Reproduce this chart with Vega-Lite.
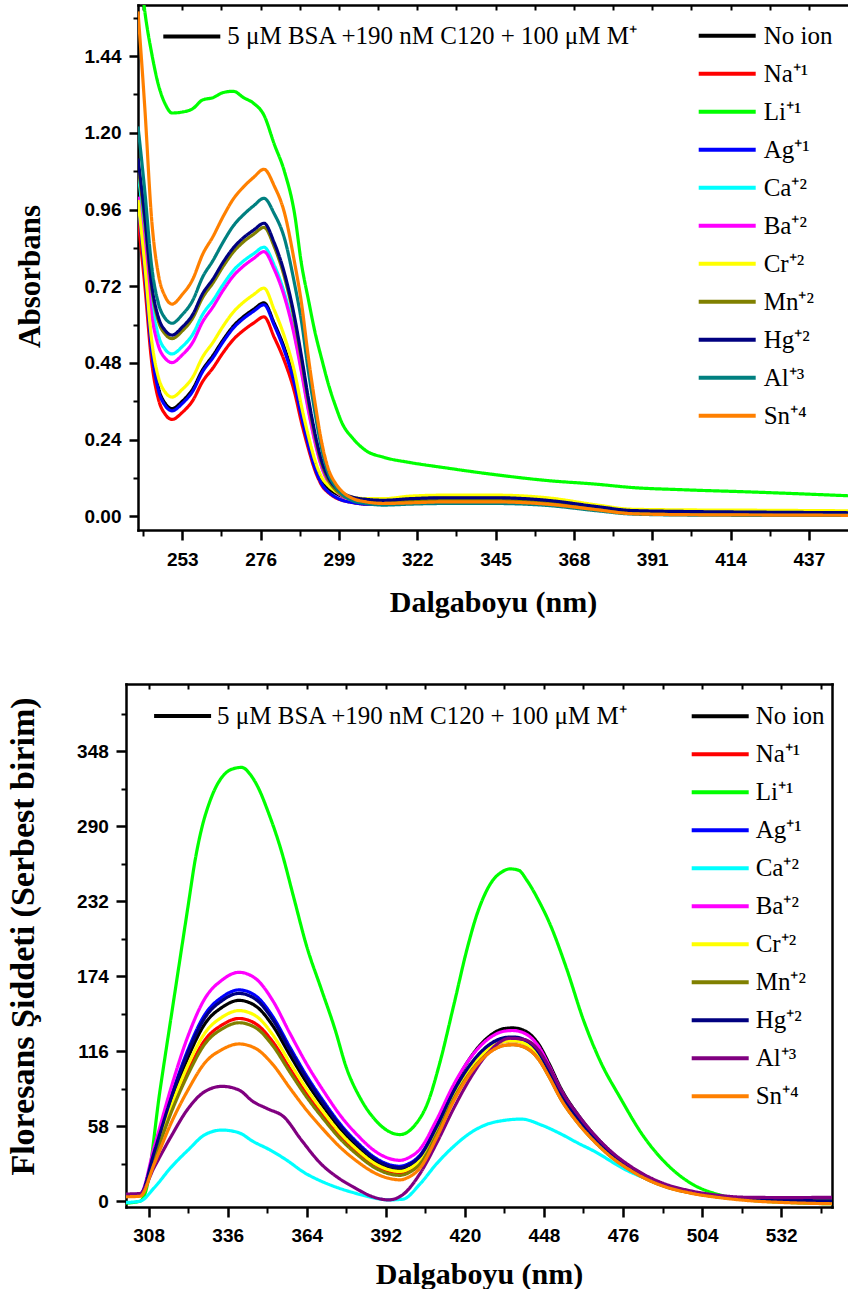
{
"$schema": "https://vega.github.io/schema/vega-lite/v6.json",
"usermeta": {"embedOptions": {"actions": false}},
"padding": {"left": 5, "top": 4, "right": 0, "bottom": 0},
"background": "white",
"config": {
 "view": {"stroke": null},
 "axis": {"grid": false, "domainColor": "black", "domainWidth": 2.5, "domainCap": "square", "tickColor": "black", "tickWidth": 2.5, "labelFont": "Liberation Sans, Arial, sans-serif", "labelFontWeight": "bold", "labelFontSize": 19, "labelColor": "black", "titleFont": "Liberation Serif, Times New Roman, serif", "titleFontWeight": "bold", "titleColor": "black"},
 "legend": {"orient": "none", "padding": 0, "symbolType": "stroke", "symbolStrokeWidth": 4, "symbolSize": 3249, "clipHeight": 37.4, "rowPadding": 0, "labelFont": "Liberation Serif, Times New Roman, serif", "labelFontSize": 25, "labelColor": "black", "labelLimit": 700}
},
"datasets": {
 "abs": [
{"s":"No ion","x":240,"y":0.99},{"s":"No ion","x":242,"y":0.775},{"s":"No ion","x":244,"y":0.526},{"s":"No ion","x":246,"y":0.402},{"s":"No ion","x":248,"y":0.353},{"s":"No ion","x":250,"y":0.337},{"s":"No ion","x":253,"y":0.36},{"s":"No ion","x":256,"y":0.397},{"s":"No ion","x":259,"y":0.459},{"s":"No ion","x":262,"y":0.503},{"s":"No ion","x":265,"y":0.552},{"s":"No ion","x":268,"y":0.595},{"s":"No ion","x":271,"y":0.625},{"s":"No ion","x":274,"y":0.648},{"s":"No ion","x":277,"y":0.668},{"s":"No ion","x":280,"y":0.604},{"s":"No ion","x":283,"y":0.526},{"s":"No ion","x":286,"y":0.421},{"s":"No ion","x":288,"y":0.322},{"s":"No ion","x":290,"y":0.235},{"s":"No ion","x":292,"y":0.161},{"s":"No ion","x":294,"y":0.112},{"s":"No ion","x":296,"y":0.087},{"s":"No ion","x":298,"y":0.072},{"s":"No ion","x":300,"y":0.062},{"s":"No ion","x":303,"y":0.055},{"s":"No ion","x":307,"y":0.05},{"s":"No ion","x":312,"y":0.05},{"s":"No ion","x":320,"y":0.055},{"s":"No ion","x":330,"y":0.058},{"s":"No ion","x":345,"y":0.058},{"s":"No ion","x":360,"y":0.05},{"s":"No ion","x":375,"y":0.03},{"s":"No ion","x":385,"y":0.018},{"s":"No ion","x":400,"y":0.015},{"s":"No ion","x":420,"y":0.013},{"s":"No ion","x":449,"y":0.011},
{"s":"Na⁺¹","x":240,"y":0.93},{"s":"Na⁺¹","x":242,"y":0.723},{"s":"Na⁺¹","x":244,"y":0.485},{"s":"Na⁺¹","x":246,"y":0.366},{"s":"Na⁺¹","x":248,"y":0.319},{"s":"Na⁺¹","x":250,"y":0.303},{"s":"Na⁺¹","x":253,"y":0.325},{"s":"Na⁺¹","x":256,"y":0.361},{"s":"Na⁺¹","x":259,"y":0.422},{"s":"Na⁺¹","x":262,"y":0.464},{"s":"Na⁺¹","x":265,"y":0.512},{"s":"Na⁺¹","x":268,"y":0.553},{"s":"Na⁺¹","x":271,"y":0.582},{"s":"Na⁺¹","x":274,"y":0.605},{"s":"Na⁺¹","x":277,"y":0.624},{"s":"Na⁺¹","x":280,"y":0.56},{"s":"Na⁺¹","x":283,"y":0.486},{"s":"Na⁺¹","x":286,"y":0.387},{"s":"Na⁺¹","x":288,"y":0.294},{"s":"Na⁺¹","x":290,"y":0.213},{"s":"Na⁺¹","x":292,"y":0.143},{"s":"Na⁺¹","x":294,"y":0.096},{"s":"Na⁺¹","x":296,"y":0.073},{"s":"Na⁺¹","x":298,"y":0.058},{"s":"Na⁺¹","x":300,"y":0.05},{"s":"Na⁺¹","x":303,"y":0.043},{"s":"Na⁺¹","x":307,"y":0.038},{"s":"Na⁺¹","x":312,"y":0.038},{"s":"Na⁺¹","x":320,"y":0.042},{"s":"Na⁺¹","x":330,"y":0.045},{"s":"Na⁺¹","x":345,"y":0.045},{"s":"Na⁺¹","x":360,"y":0.04},{"s":"Na⁺¹","x":375,"y":0.022},{"s":"Na⁺¹","x":385,"y":0.011},{"s":"Na⁺¹","x":400,"y":0.008},{"s":"Na⁺¹","x":420,"y":0.007},{"s":"Na⁺¹","x":449,"y":0.006},
{"s":"Li⁺¹","x":240,"y":1.78},{"s":"Li⁺¹","x":242,"y":1.58},{"s":"Li⁺¹","x":244,"y":1.45},{"s":"Li⁺¹","x":246,"y":1.35},{"s":"Li⁺¹","x":248,"y":1.29},{"s":"Li⁺¹","x":250,"y":1.262},{"s":"Li⁺¹","x":253,"y":1.265},{"s":"Li⁺¹","x":256,"y":1.275},{"s":"Li⁺¹","x":259,"y":1.303},{"s":"Li⁺¹","x":262,"y":1.31},{"s":"Li⁺¹","x":265,"y":1.326},{"s":"Li⁺¹","x":268,"y":1.33},{"s":"Li⁺¹","x":271,"y":1.31},{"s":"Li⁺¹","x":274,"y":1.292},{"s":"Li⁺¹","x":277,"y":1.255},{"s":"Li⁺¹","x":280,"y":1.165},{"s":"Li⁺¹","x":283,"y":1.079},{"s":"Li⁺¹","x":286,"y":0.945},{"s":"Li⁺¹","x":288,"y":0.79},{"s":"Li⁺¹","x":290,"y":0.68},{"s":"Li⁺¹","x":292,"y":0.575},{"s":"Li⁺¹","x":294,"y":0.49},{"s":"Li⁺¹","x":296,"y":0.41},{"s":"Li⁺¹","x":298,"y":0.345},{"s":"Li⁺¹","x":300,"y":0.29},{"s":"Li⁺¹","x":303,"y":0.245},{"s":"Li⁺¹","x":307,"y":0.205},{"s":"Li⁺¹","x":312,"y":0.185},{"s":"Li⁺¹","x":320,"y":0.168},{"s":"Li⁺¹","x":330,"y":0.152},{"s":"Li⁺¹","x":345,"y":0.13},{"s":"Li⁺¹","x":360,"y":0.112},{"s":"Li⁺¹","x":375,"y":0.1},{"s":"Li⁺¹","x":385,"y":0.09},{"s":"Li⁺¹","x":400,"y":0.083},{"s":"Li⁺¹","x":420,"y":0.076},{"s":"Li⁺¹","x":449,"y":0.064},
{"s":"Ag⁺¹","x":240,"y":0.98},{"s":"Ag⁺¹","x":242,"y":0.766},{"s":"Ag⁺¹","x":244,"y":0.519},{"s":"Ag⁺¹","x":246,"y":0.395},{"s":"Ag⁺¹","x":248,"y":0.346},{"s":"Ag⁺¹","x":250,"y":0.33},{"s":"Ag⁺¹","x":253,"y":0.353},{"s":"Ag⁺¹","x":256,"y":0.39},{"s":"Ag⁺¹","x":259,"y":0.453},{"s":"Ag⁺¹","x":262,"y":0.496},{"s":"Ag⁺¹","x":265,"y":0.546},{"s":"Ag⁺¹","x":268,"y":0.589},{"s":"Ag⁺¹","x":271,"y":0.619},{"s":"Ag⁺¹","x":274,"y":0.642},{"s":"Ag⁺¹","x":277,"y":0.662},{"s":"Ag⁺¹","x":280,"y":0.598},{"s":"Ag⁺¹","x":283,"y":0.518},{"s":"Ag⁺¹","x":286,"y":0.412},{"s":"Ag⁺¹","x":288,"y":0.313},{"s":"Ag⁺¹","x":290,"y":0.225},{"s":"Ag⁺¹","x":292,"y":0.15},{"s":"Ag⁺¹","x":294,"y":0.1},{"s":"Ag⁺¹","x":296,"y":0.075},{"s":"Ag⁺¹","x":298,"y":0.06},{"s":"Ag⁺¹","x":300,"y":0.05},{"s":"Ag⁺¹","x":303,"y":0.043},{"s":"Ag⁺¹","x":307,"y":0.038},{"s":"Ag⁺¹","x":312,"y":0.038},{"s":"Ag⁺¹","x":320,"y":0.042},{"s":"Ag⁺¹","x":330,"y":0.045},{"s":"Ag⁺¹","x":345,"y":0.045},{"s":"Ag⁺¹","x":360,"y":0.04},{"s":"Ag⁺¹","x":375,"y":0.022},{"s":"Ag⁺¹","x":385,"y":0.011},{"s":"Ag⁺¹","x":400,"y":0.008},{"s":"Ag⁺¹","x":420,"y":0.007},{"s":"Ag⁺¹","x":449,"y":0.006},
{"s":"Ca⁺²","x":240,"y":1.08},{"s":"Ca⁺²","x":242,"y":0.891},{"s":"Ca⁺²","x":244,"y":0.674},{"s":"Ca⁺²","x":246,"y":0.565},{"s":"Ca⁺²","x":248,"y":0.522},{"s":"Ca⁺²","x":250,"y":0.508},{"s":"Ca⁺²","x":253,"y":0.531},{"s":"Ca⁺²","x":256,"y":0.568},{"s":"Ca⁺²","x":259,"y":0.632},{"s":"Ca⁺²","x":262,"y":0.675},{"s":"Ca⁺²","x":265,"y":0.725},{"s":"Ca⁺²","x":268,"y":0.769},{"s":"Ca⁺²","x":271,"y":0.799},{"s":"Ca⁺²","x":274,"y":0.822},{"s":"Ca⁺²","x":277,"y":0.842},{"s":"Ca⁺²","x":280,"y":0.786},{"s":"Ca⁺²","x":283,"y":0.698},{"s":"Ca⁺²","x":286,"y":0.57},{"s":"Ca⁺²","x":288,"y":0.458},{"s":"Ca⁺²","x":290,"y":0.338},{"s":"Ca⁺²","x":292,"y":0.234},{"s":"Ca⁺²","x":294,"y":0.154},{"s":"Ca⁺²","x":296,"y":0.106},{"s":"Ca⁺²","x":298,"y":0.08},{"s":"Ca⁺²","x":300,"y":0.064},{"s":"Ca⁺²","x":303,"y":0.052},{"s":"Ca⁺²","x":307,"y":0.044},{"s":"Ca⁺²","x":312,"y":0.042},{"s":"Ca⁺²","x":320,"y":0.048},{"s":"Ca⁺²","x":330,"y":0.05},{"s":"Ca⁺²","x":345,"y":0.05},{"s":"Ca⁺²","x":360,"y":0.043},{"s":"Ca⁺²","x":375,"y":0.025},{"s":"Ca⁺²","x":385,"y":0.013},{"s":"Ca⁺²","x":400,"y":0.01},{"s":"Ca⁺²","x":420,"y":0.009},{"s":"Ca⁺²","x":449,"y":0.008},
{"s":"Ba⁺²","x":240,"y":1.0},{"s":"Ba⁺²","x":242,"y":0.829},{"s":"Ba⁺²","x":244,"y":0.632},{"s":"Ba⁺²","x":246,"y":0.533},{"s":"Ba⁺²","x":248,"y":0.494},{"s":"Ba⁺²","x":250,"y":0.481},{"s":"Ba⁺²","x":253,"y":0.505},{"s":"Ba⁺²","x":256,"y":0.543},{"s":"Ba⁺²","x":259,"y":0.609},{"s":"Ba⁺²","x":262,"y":0.655},{"s":"Ba⁺²","x":265,"y":0.707},{"s":"Ba⁺²","x":268,"y":0.752},{"s":"Ba⁺²","x":271,"y":0.783},{"s":"Ba⁺²","x":274,"y":0.807},{"s":"Ba⁺²","x":277,"y":0.828},{"s":"Ba⁺²","x":280,"y":0.773},{"s":"Ba⁺²","x":283,"y":0.687},{"s":"Ba⁺²","x":286,"y":0.561},{"s":"Ba⁺²","x":288,"y":0.451},{"s":"Ba⁺²","x":290,"y":0.333},{"s":"Ba⁺²","x":292,"y":0.231},{"s":"Ba⁺²","x":294,"y":0.152},{"s":"Ba⁺²","x":296,"y":0.105},{"s":"Ba⁺²","x":298,"y":0.079},{"s":"Ba⁺²","x":300,"y":0.063},{"s":"Ba⁺²","x":303,"y":0.051},{"s":"Ba⁺²","x":307,"y":0.044},{"s":"Ba⁺²","x":312,"y":0.042},{"s":"Ba⁺²","x":320,"y":0.048},{"s":"Ba⁺²","x":330,"y":0.05},{"s":"Ba⁺²","x":345,"y":0.05},{"s":"Ba⁺²","x":360,"y":0.043},{"s":"Ba⁺²","x":375,"y":0.025},{"s":"Ba⁺²","x":385,"y":0.013},{"s":"Ba⁺²","x":400,"y":0.01},{"s":"Ba⁺²","x":420,"y":0.009},{"s":"Ba⁺²","x":449,"y":0.008},
{"s":"Cr⁺²","x":240,"y":0.99},{"s":"Cr⁺²","x":242,"y":0.786},{"s":"Cr⁺²","x":244,"y":0.552},{"s":"Cr⁺²","x":246,"y":0.435},{"s":"Cr⁺²","x":248,"y":0.388},{"s":"Cr⁺²","x":250,"y":0.373},{"s":"Cr⁺²","x":253,"y":0.397},{"s":"Cr⁺²","x":256,"y":0.434},{"s":"Cr⁺²","x":259,"y":0.499},{"s":"Cr⁺²","x":262,"y":0.544},{"s":"Cr⁺²","x":265,"y":0.595},{"s":"Cr⁺²","x":268,"y":0.639},{"s":"Cr⁺²","x":271,"y":0.67},{"s":"Cr⁺²","x":274,"y":0.694},{"s":"Cr⁺²","x":277,"y":0.714},{"s":"Cr⁺²","x":280,"y":0.646},{"s":"Cr⁺²","x":283,"y":0.562},{"s":"Cr⁺²","x":286,"y":0.45},{"s":"Cr⁺²","x":288,"y":0.345},{"s":"Cr⁺²","x":290,"y":0.253},{"s":"Cr⁺²","x":292,"y":0.174},{"s":"Cr⁺²","x":294,"y":0.121},{"s":"Cr⁺²","x":296,"y":0.095},{"s":"Cr⁺²","x":298,"y":0.078},{"s":"Cr⁺²","x":300,"y":0.068},{"s":"Cr⁺²","x":303,"y":0.06},{"s":"Cr⁺²","x":307,"y":0.055},{"s":"Cr⁺²","x":312,"y":0.055},{"s":"Cr⁺²","x":320,"y":0.063},{"s":"Cr⁺²","x":330,"y":0.066},{"s":"Cr⁺²","x":345,"y":0.066},{"s":"Cr⁺²","x":360,"y":0.058},{"s":"Cr⁺²","x":375,"y":0.035},{"s":"Cr⁺²","x":385,"y":0.022},{"s":"Cr⁺²","x":400,"y":0.02},{"s":"Cr⁺²","x":420,"y":0.019},{"s":"Cr⁺²","x":449,"y":0.017},
{"s":"Mn⁺²","x":240,"y":1.1},{"s":"Mn⁺²","x":242,"y":0.92},{"s":"Mn⁺²","x":244,"y":0.714},{"s":"Mn⁺²","x":246,"y":0.61},{"s":"Mn⁺²","x":248,"y":0.57},{"s":"Mn⁺²","x":250,"y":0.556},{"s":"Mn⁺²","x":253,"y":0.58},{"s":"Mn⁺²","x":256,"y":0.619},{"s":"Mn⁺²","x":259,"y":0.685},{"s":"Mn⁺²","x":262,"y":0.73},{"s":"Mn⁺²","x":265,"y":0.782},{"s":"Mn⁺²","x":268,"y":0.827},{"s":"Mn⁺²","x":271,"y":0.859},{"s":"Mn⁺²","x":274,"y":0.883},{"s":"Mn⁺²","x":277,"y":0.904},{"s":"Mn⁺²","x":280,"y":0.844},{"s":"Mn⁺²","x":283,"y":0.749},{"s":"Mn⁺²","x":286,"y":0.611},{"s":"Mn⁺²","x":288,"y":0.49},{"s":"Mn⁺²","x":290,"y":0.361},{"s":"Mn⁺²","x":292,"y":0.249},{"s":"Mn⁺²","x":294,"y":0.163},{"s":"Mn⁺²","x":296,"y":0.111},{"s":"Mn⁺²","x":298,"y":0.083},{"s":"Mn⁺²","x":300,"y":0.065},{"s":"Mn⁺²","x":303,"y":0.052},{"s":"Mn⁺²","x":307,"y":0.045},{"s":"Mn⁺²","x":312,"y":0.042},{"s":"Mn⁺²","x":320,"y":0.048},{"s":"Mn⁺²","x":330,"y":0.05},{"s":"Mn⁺²","x":345,"y":0.05},{"s":"Mn⁺²","x":360,"y":0.043},{"s":"Mn⁺²","x":375,"y":0.025},{"s":"Mn⁺²","x":385,"y":0.013},{"s":"Mn⁺²","x":400,"y":0.01},{"s":"Mn⁺²","x":420,"y":0.009},{"s":"Mn⁺²","x":449,"y":0.008},
{"s":"Hg⁺²","x":240,"y":1.12},{"s":"Hg⁺²","x":242,"y":0.938},{"s":"Hg⁺²","x":244,"y":0.727},{"s":"Hg⁺²","x":246,"y":0.622},{"s":"Hg⁺²","x":248,"y":0.581},{"s":"Hg⁺²","x":250,"y":0.567},{"s":"Hg⁺²","x":253,"y":0.592},{"s":"Hg⁺²","x":256,"y":0.63},{"s":"Hg⁺²","x":259,"y":0.697},{"s":"Hg⁺²","x":262,"y":0.742},{"s":"Hg⁺²","x":265,"y":0.795},{"s":"Hg⁺²","x":268,"y":0.84},{"s":"Hg⁺²","x":271,"y":0.872},{"s":"Hg⁺²","x":274,"y":0.896},{"s":"Hg⁺²","x":277,"y":0.917},{"s":"Hg⁺²","x":280,"y":0.856},{"s":"Hg⁺²","x":283,"y":0.761},{"s":"Hg⁺²","x":286,"y":0.622},{"s":"Hg⁺²","x":288,"y":0.501},{"s":"Hg⁺²","x":290,"y":0.371},{"s":"Hg⁺²","x":292,"y":0.258},{"s":"Hg⁺²","x":294,"y":0.171},{"s":"Hg⁺²","x":296,"y":0.119},{"s":"Hg⁺²","x":298,"y":0.091},{"s":"Hg⁺²","x":300,"y":0.073},{"s":"Hg⁺²","x":303,"y":0.06},{"s":"Hg⁺²","x":307,"y":0.053},{"s":"Hg⁺²","x":312,"y":0.05},{"s":"Hg⁺²","x":320,"y":0.055},{"s":"Hg⁺²","x":330,"y":0.058},{"s":"Hg⁺²","x":345,"y":0.058},{"s":"Hg⁺²","x":360,"y":0.05},{"s":"Hg⁺²","x":375,"y":0.03},{"s":"Hg⁺²","x":385,"y":0.018},{"s":"Hg⁺²","x":400,"y":0.015},{"s":"Hg⁺²","x":420,"y":0.013},{"s":"Hg⁺²","x":449,"y":0.011},
{"s":"Al⁺³","x":240,"y":1.22},{"s":"Al⁺³","x":242,"y":1.017},{"s":"Al⁺³","x":244,"y":0.783},{"s":"Al⁺³","x":246,"y":0.666},{"s":"Al⁺³","x":248,"y":0.619},{"s":"Al⁺³","x":250,"y":0.604},{"s":"Al⁺³","x":253,"y":0.631},{"s":"Al⁺³","x":256,"y":0.674},{"s":"Al⁺³","x":259,"y":0.749},{"s":"Al⁺³","x":262,"y":0.8},{"s":"Al⁺³","x":265,"y":0.858},{"s":"Al⁺³","x":268,"y":0.909},{"s":"Al⁺³","x":271,"y":0.944},{"s":"Al⁺³","x":274,"y":0.972},{"s":"Al⁺³","x":277,"y":0.995},{"s":"Al⁺³","x":280,"y":0.947},{"s":"Al⁺³","x":283,"y":0.87},{"s":"Al⁺³","x":286,"y":0.726},{"s":"Al⁺³","x":288,"y":0.611},{"s":"Al⁺³","x":290,"y":0.457},{"s":"Al⁺³","x":292,"y":0.323},{"s":"Al⁺³","x":294,"y":0.208},{"s":"Al⁺³","x":296,"y":0.131},{"s":"Al⁺³","x":298,"y":0.093},{"s":"Al⁺³","x":300,"y":0.069},{"s":"Al⁺³","x":303,"y":0.049},{"s":"Al⁺³","x":307,"y":0.04},{"s":"Al⁺³","x":312,"y":0.035},{"s":"Al⁺³","x":320,"y":0.038},{"s":"Al⁺³","x":330,"y":0.04},{"s":"Al⁺³","x":345,"y":0.04},{"s":"Al⁺³","x":360,"y":0.034},{"s":"Al⁺³","x":375,"y":0.017},{"s":"Al⁺³","x":385,"y":0.007},{"s":"Al⁺³","x":400,"y":0.004},{"s":"Al⁺³","x":420,"y":0.003},{"s":"Al⁺³","x":449,"y":0.003},
{"s":"Sn⁺⁴","x":240,"y":1.58},{"s":"Sn⁺⁴","x":242,"y":1.278},{"s":"Sn⁺⁴","x":244,"y":0.93},{"s":"Sn⁺⁴","x":246,"y":0.756},{"s":"Sn⁺⁴","x":248,"y":0.687},{"s":"Sn⁺⁴","x":250,"y":0.664},{"s":"Sn⁺⁴","x":253,"y":0.694},{"s":"Sn⁺⁴","x":256,"y":0.74},{"s":"Sn⁺⁴","x":259,"y":0.82},{"s":"Sn⁺⁴","x":262,"y":0.875},{"s":"Sn⁺⁴","x":265,"y":0.938},{"s":"Sn⁺⁴","x":268,"y":0.993},{"s":"Sn⁺⁴","x":271,"y":1.031},{"s":"Sn⁺⁴","x":274,"y":1.061},{"s":"Sn⁺⁴","x":277,"y":1.086},{"s":"Sn⁺⁴","x":280,"y":1.034},{"s":"Sn⁺⁴","x":283,"y":0.95},{"s":"Sn⁺⁴","x":286,"y":0.793},{"s":"Sn⁺⁴","x":288,"y":0.668},{"s":"Sn⁺⁴","x":290,"y":0.5},{"s":"Sn⁺⁴","x":292,"y":0.354},{"s":"Sn⁺⁴","x":294,"y":0.228},{"s":"Sn⁺⁴","x":296,"y":0.145},{"s":"Sn⁺⁴","x":298,"y":0.103},{"s":"Sn⁺⁴","x":300,"y":0.077},{"s":"Sn⁺⁴","x":303,"y":0.056},{"s":"Sn⁺⁴","x":307,"y":0.045},{"s":"Sn⁺⁴","x":312,"y":0.04},{"s":"Sn⁺⁴","x":320,"y":0.042},{"s":"Sn⁺⁴","x":330,"y":0.045},{"s":"Sn⁺⁴","x":345,"y":0.045},{"s":"Sn⁺⁴","x":360,"y":0.038},{"s":"Sn⁺⁴","x":375,"y":0.02},{"s":"Sn⁺⁴","x":385,"y":0.008},{"s":"Sn⁺⁴","x":400,"y":0.005},{"s":"Sn⁺⁴","x":420,"y":0.004},{"s":"Sn⁺⁴","x":449,"y":0.003}
 ],
 "flu": [
{"s":"No ion","x":300,"y":4.4},{"s":"No ion","x":305,"y":4.8},{"s":"No ion","x":310,"y":36.8},{"s":"No ion","x":316,"y":77.2},{"s":"No ion","x":322,"y":111.4},{"s":"No ion","x":328,"y":137.4},{"s":"No ion","x":334,"y":149.9},{"s":"No ion","x":340,"y":155.3},{"s":"No ion","x":346,"y":150.8},{"s":"No ion","x":352,"y":135.6},{"s":"No ion","x":358,"y":113.2},{"s":"No ion","x":364,"y":91.7},{"s":"No ion","x":370,"y":72.8},{"s":"No ion","x":376,"y":55.8},{"s":"No ion","x":382,"y":42.4},{"s":"No ion","x":388,"y":31.6},{"s":"No ion","x":394,"y":25.8},{"s":"No ion","x":397,"y":25},{"s":"No ion","x":400,"y":27.1},{"s":"No ion","x":404,"y":34.1},{"s":"No ion","x":410,"y":59.1},{"s":"No ion","x":416,"y":88.4},{"s":"No ion","x":422,"y":111.2},{"s":"No ion","x":428,"y":126.4},{"s":"No ion","x":434,"y":133.5},{"s":"No ion","x":437,"y":134},{"s":"No ion","x":441,"y":132},{"s":"No ion","x":446,"y":121.8},{"s":"No ion","x":450,"y":105.6},{"s":"No ion","x":454,"y":87.3},{"s":"No ion","x":460,"y":67},{"s":"No ion","x":466,"y":50.8},{"s":"No ion","x":472,"y":37.6},{"s":"No ion","x":478,"y":27.4},{"s":"No ion","x":484,"y":19.3},{"s":"No ion","x":490,"y":13.2},{"s":"No ion","x":500,"y":7.1},{"s":"No ion","x":510,"y":3.6},{"s":"No ion","x":520,"y":1.5},{"s":"No ion","x":535,"y":0.5},{"s":"No ion","x":550,"y":0.3},
{"s":"Na⁺¹","x":300,"y":4.0},{"s":"Na⁺¹","x":305,"y":4.4},{"s":"Na⁺¹","x":310,"y":33.5},{"s":"Na⁺¹","x":316,"y":70.2},{"s":"Na⁺¹","x":322,"y":101},{"s":"Na⁺¹","x":328,"y":124.8},{"s":"Na⁺¹","x":334,"y":136.3},{"s":"Na⁺¹","x":340,"y":141.3},{"s":"Na⁺¹","x":346,"y":137.1},{"s":"Na⁺¹","x":352,"y":123.2},{"s":"Na⁺¹","x":358,"y":102.7},{"s":"Na⁺¹","x":364,"y":83},{"s":"Na⁺¹","x":370,"y":65.8},{"s":"Na⁺¹","x":376,"y":50.2},{"s":"Na⁺¹","x":382,"y":37.9},{"s":"Na⁺¹","x":388,"y":28.1},{"s":"Na⁺¹","x":394,"y":22.7},{"s":"Na⁺¹","x":397,"y":22},{"s":"Na⁺¹","x":400,"y":23.9},{"s":"Na⁺¹","x":404,"y":30.5},{"s":"Na⁺¹","x":410,"y":53.9},{"s":"Na⁺¹","x":416,"y":81.3},{"s":"Na⁺¹","x":422,"y":102.7},{"s":"Na⁺¹","x":428,"y":116.9},{"s":"Na⁺¹","x":434,"y":123.5},{"s":"Na⁺¹","x":437,"y":124},{"s":"Na⁺¹","x":441,"y":122.1},{"s":"Na⁺¹","x":446,"y":112.7},{"s":"Na⁺¹","x":450,"y":97.7},{"s":"Na⁺¹","x":454,"y":80.8},{"s":"Na⁺¹","x":460,"y":62},{"s":"Na⁺¹","x":466,"y":47},{"s":"Na⁺¹","x":472,"y":34.7},{"s":"Na⁺¹","x":478,"y":25.4},{"s":"Na⁺¹","x":484,"y":17.8},{"s":"Na⁺¹","x":490,"y":12.2},{"s":"Na⁺¹","x":500,"y":6.6},{"s":"Na⁺¹","x":510,"y":3.3},{"s":"Na⁺¹","x":520,"y":1.4},{"s":"Na⁺¹","x":535,"y":0.5},{"s":"Na⁺¹","x":550,"y":0.3},
{"s":"Li⁺¹","x":300,"y":-1.5},{"s":"Li⁺¹","x":305,"y":0},{"s":"Li⁺¹","x":307,"y":7.7},{"s":"Li⁺¹","x":312,"y":85},{"s":"Li⁺¹","x":317,"y":157},{"s":"Li⁺¹","x":322,"y":228.5},{"s":"Li⁺¹","x":324.5,"y":264},{"s":"Li⁺¹","x":327,"y":290},{"s":"Li⁺¹","x":329.5,"y":308},{"s":"Li⁺¹","x":332,"y":321},{"s":"Li⁺¹","x":335,"y":330.5},{"s":"Li⁺¹","x":338,"y":334.5},{"s":"Li⁺¹","x":341,"y":335.5},{"s":"Li⁺¹","x":344,"y":330},{"s":"Li⁺¹","x":347,"y":319},{"s":"Li⁺¹","x":350,"y":303},{"s":"Li⁺¹","x":355,"y":271},{"s":"Li⁺¹","x":359.5,"y":234},{"s":"Li⁺¹","x":364,"y":197},{"s":"Li⁺¹","x":369,"y":165},{"s":"Li⁺¹","x":374,"y":133},{"s":"Li⁺¹","x":378,"y":103.5},{"s":"Li⁺¹","x":383,"y":79.5},{"s":"Li⁺¹","x":388,"y":63.5},{"s":"Li⁺¹","x":393,"y":54},{"s":"Li⁺¹","x":397,"y":51.5},{"s":"Li⁺¹","x":402,"y":58},{"s":"Li⁺¹","x":407,"y":77},{"s":"Li⁺¹","x":411,"y":106},{"s":"Li⁺¹","x":416,"y":151},{"s":"Li⁺¹","x":421,"y":197},{"s":"Li⁺¹","x":424,"y":220},{"s":"Li⁺¹","x":427,"y":237},{"s":"Li⁺¹","x":430,"y":248.5},{"s":"Li⁺¹","x":433,"y":254.5},{"s":"Li⁺¹","x":436,"y":257},{"s":"Li⁺¹","x":439,"y":256},{"s":"Li⁺¹","x":442,"y":248},{"s":"Li⁺¹","x":446,"y":233},{"s":"Li⁺¹","x":450,"y":215},{"s":"Li⁺¹","x":456,"y":180},{"s":"Li⁺¹","x":462,"y":140},{"s":"Li⁺¹","x":468,"y":108},{"s":"Li⁺¹","x":475,"y":80},{"s":"Li⁺¹","x":483,"y":51},{"s":"Li⁺¹","x":493,"y":25.5},{"s":"Li⁺¹","x":501,"y":12.6},{"s":"Li⁺¹","x":510,"y":5},{"s":"Li⁺¹","x":520,"y":1},{"s":"Li⁺¹","x":535,"y":-1},{"s":"Li⁺¹","x":550,"y":-2},
{"s":"Ag⁺¹","x":300,"y":4.6},{"s":"Ag⁺¹","x":305,"y":5.1},{"s":"Ag⁺¹","x":310,"y":38.8},{"s":"Ag⁺¹","x":316,"y":81.2},{"s":"Ag⁺¹","x":322,"y":117.4},{"s":"Ag⁺¹","x":328,"y":144.6},{"s":"Ag⁺¹","x":334,"y":157.8},{"s":"Ag⁺¹","x":340,"y":163.4},{"s":"Ag⁺¹","x":346,"y":158.7},{"s":"Ag⁺¹","x":352,"y":142.7},{"s":"Ag⁺¹","x":358,"y":119.3},{"s":"Ag⁺¹","x":364,"y":96.8},{"s":"Ag⁺¹","x":370,"y":77.1},{"s":"Ag⁺¹","x":376,"y":59.3},{"s":"Ag⁺¹","x":382,"y":45.2},{"s":"Ag⁺¹","x":388,"y":33.9},{"s":"Ag⁺¹","x":394,"y":27.8},{"s":"Ag⁺¹","x":397,"y":27},{"s":"Ag⁺¹","x":400,"y":28.9},{"s":"Ag⁺¹","x":404,"y":35.3},{"s":"Ag⁺¹","x":410,"y":58},{"s":"Ag⁺¹","x":416,"y":84.6},{"s":"Ag⁺¹","x":422,"y":105.3},{"s":"Ag⁺¹","x":428,"y":119.1},{"s":"Ag⁺¹","x":434,"y":125.5},{"s":"Ag⁺¹","x":437,"y":126},{"s":"Ag⁺¹","x":441,"y":124.2},{"s":"Ag⁺¹","x":446,"y":114.6},{"s":"Ag⁺¹","x":450,"y":99.3},{"s":"Ag⁺¹","x":454,"y":82.1},{"s":"Ag⁺¹","x":460,"y":63},{"s":"Ag⁺¹","x":466,"y":47.8},{"s":"Ag⁺¹","x":472,"y":35.3},{"s":"Ag⁺¹","x":478,"y":25.8},{"s":"Ag⁺¹","x":484,"y":18.1},{"s":"Ag⁺¹","x":490,"y":12.4},{"s":"Ag⁺¹","x":500,"y":6.7},{"s":"Ag⁺¹","x":510,"y":3.3},{"s":"Ag⁺¹","x":520,"y":1.4},{"s":"Ag⁺¹","x":535,"y":0.5},{"s":"Ag⁺¹","x":550,"y":0.3},
{"s":"Ca⁺²","x":300,"y":-1},{"s":"Ca⁺²","x":305,"y":0},{"s":"Ca⁺²","x":310,"y":10.4},{"s":"Ca⁺²","x":316,"y":26.3},{"s":"Ca⁺²","x":322,"y":39.6},{"s":"Ca⁺²","x":328,"y":51.5},{"s":"Ca⁺²","x":334,"y":55},{"s":"Ca⁺²","x":340,"y":52.9},{"s":"Ca⁺²","x":345,"y":46.2},{"s":"Ca⁺²","x":351,"y":39.6},{"s":"Ca⁺²","x":357,"y":31.6},{"s":"Ca⁺²","x":363,"y":22.3},{"s":"Ca⁺²","x":369,"y":15.6},{"s":"Ca⁺²","x":375,"y":10.4},{"s":"Ca⁺²","x":381,"y":6.3},{"s":"Ca⁺²","x":387,"y":2.9},{"s":"Ca⁺²","x":393,"y":1},{"s":"Ca⁺²","x":398,"y":1.5},{"s":"Ca⁺²","x":404,"y":13},{"s":"Ca⁺²","x":410,"y":29},{"s":"Ca⁺²","x":416,"y":42.3},{"s":"Ca⁺²","x":422,"y":52.9},{"s":"Ca⁺²","x":428,"y":59.6},{"s":"Ca⁺²","x":434,"y":62.5},{"s":"Ca⁺²","x":440,"y":63.5},{"s":"Ca⁺²","x":447,"y":59},{"s":"Ca⁺²","x":454,"y":52},{"s":"Ca⁺²","x":460,"y":45},{"s":"Ca⁺²","x":466,"y":38.4},{"s":"Ca⁺²","x":477,"y":24.2},{"s":"Ca⁺²","x":489,"y":13.9},{"s":"Ca⁺²","x":501,"y":7},{"s":"Ca⁺²","x":513,"y":3},{"s":"Ca⁺²","x":525,"y":1},{"s":"Ca⁺²","x":550,"y":-1},
{"s":"Ba⁺²","x":300,"y":5},{"s":"Ba⁺²","x":305,"y":5.5},{"s":"Ba⁺²","x":310,"y":42},{"s":"Ba⁺²","x":316,"y":88},{"s":"Ba⁺²","x":322,"y":128},{"s":"Ba⁺²","x":328,"y":157},{"s":"Ba⁺²","x":334,"y":171},{"s":"Ba⁺²","x":340,"y":177},{"s":"Ba⁺²","x":346,"y":172},{"s":"Ba⁺²","x":352,"y":155},{"s":"Ba⁺²","x":358,"y":130},{"s":"Ba⁺²","x":364,"y":106},{"s":"Ba⁺²","x":370,"y":85},{"s":"Ba⁺²","x":376,"y":66},{"s":"Ba⁺²","x":382,"y":51},{"s":"Ba⁺²","x":388,"y":39},{"s":"Ba⁺²","x":394,"y":32.5},{"s":"Ba⁺²","x":397,"y":31.6},{"s":"Ba⁺²","x":400,"y":33.5},{"s":"Ba⁺²","x":404,"y":40},{"s":"Ba⁺²","x":410,"y":63},{"s":"Ba⁺²","x":416,"y":90},{"s":"Ba⁺²","x":422,"y":111},{"s":"Ba⁺²","x":428,"y":125},{"s":"Ba⁺²","x":434,"y":131.5},{"s":"Ba⁺²","x":437,"y":132},{"s":"Ba⁺²","x":441,"y":130},{"s":"Ba⁺²","x":446,"y":120},{"s":"Ba⁺²","x":450,"y":104},{"s":"Ba⁺²","x":454,"y":86},{"s":"Ba⁺²","x":460,"y":66},{"s":"Ba⁺²","x":466,"y":50},{"s":"Ba⁺²","x":472,"y":37},{"s":"Ba⁺²","x":478,"y":27},{"s":"Ba⁺²","x":484,"y":19},{"s":"Ba⁺²","x":490,"y":13},{"s":"Ba⁺²","x":500,"y":7},{"s":"Ba⁺²","x":510,"y":3.5},{"s":"Ba⁺²","x":520,"y":1.5},{"s":"Ba⁺²","x":535,"y":0.5},{"s":"Ba⁺²","x":550,"y":0.5},
{"s":"Cr⁺²","x":300,"y":4.2},{"s":"Cr⁺²","x":305,"y":4.6},{"s":"Cr⁺²","x":310,"y":35},{"s":"Cr⁺²","x":316,"y":73.3},{"s":"Cr⁺²","x":322,"y":105.5},{"s":"Cr⁺²","x":328,"y":130.3},{"s":"Cr⁺²","x":334,"y":142.3},{"s":"Cr⁺²","x":340,"y":147.4},{"s":"Cr⁺²","x":346,"y":143.2},{"s":"Cr⁺²","x":352,"y":128.6},{"s":"Cr⁺²","x":358,"y":107.2},{"s":"Cr⁺²","x":364,"y":86.7},{"s":"Cr⁺²","x":370,"y":68.7},{"s":"Cr⁺²","x":376,"y":52.4},{"s":"Cr⁺²","x":382,"y":39.6},{"s":"Cr⁺²","x":388,"y":29.3},{"s":"Cr⁺²","x":394,"y":23.8},{"s":"Cr⁺²","x":397,"y":23},{"s":"Cr⁺²","x":400,"y":24.9},{"s":"Cr⁺²","x":404,"y":31.5},{"s":"Cr⁺²","x":410,"y":54.6},{"s":"Cr⁺²","x":416,"y":81.8},{"s":"Cr⁺²","x":422,"y":102.9},{"s":"Cr⁺²","x":428,"y":117},{"s":"Cr⁺²","x":434,"y":123.5},{"s":"Cr⁺²","x":437,"y":124},{"s":"Cr⁺²","x":441,"y":122.1},{"s":"Cr⁺²","x":446,"y":112.7},{"s":"Cr⁺²","x":450,"y":97.7},{"s":"Cr⁺²","x":454,"y":80.8},{"s":"Cr⁺²","x":460,"y":62},{"s":"Cr⁺²","x":466,"y":47},{"s":"Cr⁺²","x":472,"y":34.7},{"s":"Cr⁺²","x":478,"y":25.4},{"s":"Cr⁺²","x":484,"y":17.8},{"s":"Cr⁺²","x":490,"y":12.2},{"s":"Cr⁺²","x":500,"y":6.6},{"s":"Cr⁺²","x":510,"y":3.3},{"s":"Cr⁺²","x":520,"y":1.4},{"s":"Cr⁺²","x":535,"y":0.5},{"s":"Cr⁺²","x":550,"y":0.3},
{"s":"Mn⁺²","x":300,"y":3.9},{"s":"Mn⁺²","x":305,"y":4.3},{"s":"Mn⁺²","x":310,"y":32.8},{"s":"Mn⁺²","x":316,"y":68.6},{"s":"Mn⁺²","x":322,"y":98.3},{"s":"Mn⁺²","x":328,"y":121.8},{"s":"Mn⁺²","x":334,"y":133.2},{"s":"Mn⁺²","x":340,"y":138},{"s":"Mn⁺²","x":346,"y":134},{"s":"Mn⁺²","x":352,"y":120.2},{"s":"Mn⁺²","x":358,"y":99.9},{"s":"Mn⁺²","x":364,"y":80.4},{"s":"Mn⁺²","x":370,"y":63.4},{"s":"Mn⁺²","x":376,"y":47.9},{"s":"Mn⁺²","x":382,"y":35.8},{"s":"Mn⁺²","x":388,"y":26},{"s":"Mn⁺²","x":394,"y":20.7},{"s":"Mn⁺²","x":397,"y":20},{"s":"Mn⁺²","x":400,"y":21.9},{"s":"Mn⁺²","x":404,"y":28.5},{"s":"Mn⁺²","x":410,"y":51.6},{"s":"Mn⁺²","x":416,"y":78.8},{"s":"Mn⁺²","x":422,"y":99.9},{"s":"Mn⁺²","x":428,"y":114},{"s":"Mn⁺²","x":434,"y":120.5},{"s":"Mn⁺²","x":437,"y":121},{"s":"Mn⁺²","x":441,"y":119.2},{"s":"Mn⁺²","x":446,"y":110},{"s":"Mn⁺²","x":450,"y":95.4},{"s":"Mn⁺²","x":454,"y":78.9},{"s":"Mn⁺²","x":460,"y":60.5},{"s":"Mn⁺²","x":466,"y":45.9},{"s":"Mn⁺²","x":472,"y":33.9},{"s":"Mn⁺²","x":478,"y":24.8},{"s":"Mn⁺²","x":484,"y":17.4},{"s":"Mn⁺²","x":490,"y":11.9},{"s":"Mn⁺²","x":500,"y":6.4},{"s":"Mn⁺²","x":510,"y":3.2},{"s":"Mn⁺²","x":520,"y":1.4},{"s":"Mn⁺²","x":535,"y":0.5},{"s":"Mn⁺²","x":550,"y":0},
{"s":"Hg⁺²","x":300,"y":4.5},{"s":"Hg⁺²","x":305,"y":5},{"s":"Hg⁺²","x":310,"y":38.1},{"s":"Hg⁺²","x":316,"y":79.9},{"s":"Hg⁺²","x":322,"y":115.3},{"s":"Hg⁺²","x":328,"y":142.1},{"s":"Hg⁺²","x":334,"y":155.1},{"s":"Hg⁺²","x":340,"y":160.7},{"s":"Hg⁺²","x":346,"y":156},{"s":"Hg⁺²","x":352,"y":140.3},{"s":"Hg⁺²","x":358,"y":117.1},{"s":"Hg⁺²","x":364,"y":94.9},{"s":"Hg⁺²","x":370,"y":75.4},{"s":"Hg⁺²","x":376,"y":57.9},{"s":"Hg⁺²","x":382,"y":44},{"s":"Hg⁺²","x":388,"y":32.9},{"s":"Hg⁺²","x":394,"y":26.8},{"s":"Hg⁺²","x":397,"y":26},{"s":"Hg⁺²","x":400,"y":27.9},{"s":"Hg⁺²","x":404,"y":34.5},{"s":"Hg⁺²","x":410,"y":57.6},{"s":"Hg⁺²","x":416,"y":84.8},{"s":"Hg⁺²","x":422,"y":105.9},{"s":"Hg⁺²","x":428,"y":120},{"s":"Hg⁺²","x":434,"y":126.5},{"s":"Hg⁺²","x":437,"y":127},{"s":"Hg⁺²","x":441,"y":125.1},{"s":"Hg⁺²","x":446,"y":115.4},{"s":"Hg⁺²","x":450,"y":100},{"s":"Hg⁺²","x":454,"y":82.7},{"s":"Hg⁺²","x":460,"y":63.5},{"s":"Hg⁺²","x":466,"y":48.1},{"s":"Hg⁺²","x":472,"y":35.6},{"s":"Hg⁺²","x":478,"y":26},{"s":"Hg⁺²","x":484,"y":18.3},{"s":"Hg⁺²","x":490,"y":12.5},{"s":"Hg⁺²","x":500,"y":6.7},{"s":"Hg⁺²","x":510,"y":3.4},{"s":"Hg⁺²","x":520,"y":1.4},{"s":"Hg⁺²","x":535,"y":0.5},{"s":"Hg⁺²","x":550,"y":0.3},
{"s":"Al⁺³","x":300,"y":5.5},{"s":"Al⁺³","x":305,"y":6},{"s":"Al⁺³","x":310,"y":26.3},{"s":"Al⁺³","x":316,"y":50.2},{"s":"Al⁺³","x":322,"y":71.6},{"s":"Al⁺³","x":328,"y":84.9},{"s":"Al⁺³","x":334,"y":88.8},{"s":"Al⁺³","x":340,"y":86},{"s":"Al⁺³","x":345,"y":77},{"s":"Al⁺³","x":350,"y":71.6},{"s":"Al⁺³","x":356,"y":65},{"s":"Al⁺³","x":362,"y":47.6},{"s":"Al⁺³","x":369,"y":29},{"s":"Al⁺³","x":375,"y":18.3},{"s":"Al⁺³","x":381,"y":10.4},{"s":"Al⁺³","x":387,"y":3.7},{"s":"Al⁺³","x":393,"y":1},{"s":"Al⁺³","x":398,"y":5},{"s":"Al⁺³","x":404,"y":21},{"s":"Al⁺³","x":410,"y":44.9},{"s":"Al⁺³","x":416,"y":71.6},{"s":"Al⁺³","x":422,"y":95.4},{"s":"Al⁺³","x":428,"y":114.1},{"s":"Al⁺³","x":436,"y":126},{"s":"Al⁺³","x":441,"y":125},{"s":"Al⁺³","x":446,"y":117},{"s":"Al⁺³","x":450,"y":103},{"s":"Al⁺³","x":454,"y":86},{"s":"Al⁺³","x":460,"y":67},{"s":"Al⁺³","x":466,"y":51},{"s":"Al⁺³","x":472,"y":38},{"s":"Al⁺³","x":478,"y":28},{"s":"Al⁺³","x":484,"y":20},{"s":"Al⁺³","x":490,"y":14},{"s":"Al⁺³","x":500,"y":8},{"s":"Al⁺³","x":510,"y":4.5},{"s":"Al⁺³","x":520,"y":3},{"s":"Al⁺³","x":535,"y":2.8},{"s":"Al⁺³","x":550,"y":3},
{"s":"Sn⁺⁴","x":300,"y":3.4},{"s":"Sn⁺⁴","x":305,"y":3.8},{"s":"Sn⁺⁴","x":310,"y":28.9},{"s":"Sn⁺⁴","x":316,"y":60.5},{"s":"Sn⁺⁴","x":322,"y":86.2},{"s":"Sn⁺⁴","x":328,"y":107.2},{"s":"Sn⁺⁴","x":334,"y":117.3},{"s":"Sn⁺⁴","x":340,"y":121.6},{"s":"Sn⁺⁴","x":346,"y":118},{"s":"Sn⁺⁴","x":352,"y":105.7},{"s":"Sn⁺⁴","x":358,"y":87.6},{"s":"Sn⁺⁴","x":364,"y":70.3},{"s":"Sn⁺⁴","x":370,"y":55.1},{"s":"Sn⁺⁴","x":376,"y":41.4},{"s":"Sn⁺⁴","x":382,"y":30.5},{"s":"Sn⁺⁴","x":388,"y":21.9},{"s":"Sn⁺⁴","x":394,"y":17.2},{"s":"Sn⁺⁴","x":397,"y":16.5},{"s":"Sn⁺⁴","x":400,"y":18.5},{"s":"Sn⁺⁴","x":404,"y":25.3},{"s":"Sn⁺⁴","x":410,"y":49.2},{"s":"Sn⁺⁴","x":416,"y":77.3},{"s":"Sn⁺⁴","x":422,"y":99.2},{"s":"Sn⁺⁴","x":428,"y":113.7},{"s":"Sn⁺⁴","x":434,"y":120.5},{"s":"Sn⁺⁴","x":437,"y":121},{"s":"Sn⁺⁴","x":441,"y":119.2},{"s":"Sn⁺⁴","x":446,"y":110},{"s":"Sn⁺⁴","x":450,"y":95.4},{"s":"Sn⁺⁴","x":454,"y":78.9},{"s":"Sn⁺⁴","x":460,"y":60.5},{"s":"Sn⁺⁴","x":466,"y":45.9},{"s":"Sn⁺⁴","x":472,"y":33.9},{"s":"Sn⁺⁴","x":478,"y":24.8},{"s":"Sn⁺⁴","x":484,"y":17.4},{"s":"Sn⁺⁴","x":490,"y":11.9},{"s":"Sn⁺⁴","x":500,"y":6.2},{"s":"Sn⁺⁴","x":510,"y":2.8},{"s":"Sn⁺⁴","x":520,"y":0.5},{"s":"Sn⁺⁴","x":535,"y":-1.2},{"s":"Sn⁺⁴","x":550,"y":-2}
 ]
},
"spacing": 66,
"resolve": {"scale": {"color": "independent", "strokeDash": "independent", "x": "independent", "y": "independent"}},
"vconcat": [
 {
  "bounds": "flush",
  "spacing": 11,
  "hconcat": [
   {"width": 1, "height": 525, "data": {"values": []}, "mark": "point"},
   {
    "width": 710,
    "height": 525,
    "data": {"name": "abs"},
    "resolve": {"axis": {"x": "independent", "y": "independent"}},
    "layer": [
     {
      "mark": {"type": "line", "strokeWidth": 3.2, "clip": true, "interpolate": "monotone"},
      "encoding": {
       "x": {"field": "x", "type": "quantitative", "scale": {"domain": [240, 448.5], "nice": false, "zero": false},
             "axis": {"orient": "bottom", "values": [253, 276, 299, 322, 345, 368, 391, 414, 437], "tickSize": 10, "labelPadding": 10, "title": "Dalgaboyu (nm)", "titleFontSize": 30, "titleBaseline": "alphabetic", "titleY": 81}},
       "y": {"field": "y", "type": "quantitative", "scale": {"domain": [-0.043, 1.6], "nice": false, "zero": false},
             "axis": {"orient": "left", "values": [0, 0.24, 0.48, 0.72, 0.96, 1.2, 1.44], "format": ".2f", "tickSize": 9, "labelPadding": 8, "title": "Absorbans", "titleFontSize": 31, "titleBaseline": "alphabetic", "titleX": -99, "titleY": 271}},
       "color": {"field": "s", "type": "nominal",
                 "scale": {"domain": ["No ion", "Na⁺¹", "Li⁺¹", "Ag⁺¹", "Ca⁺²", "Ba⁺²", "Cr⁺²", "Mn⁺²", "Hg⁺²", "Al⁺³", "Sn⁺⁴"],
                           "range": ["#000000", "#FF0000", "#00FF00", "#0000FF", "#00FFFF", "#FF00FF", "#FFFF00", "#808000", "#000080", "#008080", "#FF8000"]},
                 "legend": {"title": null, "orient": "none", "legendX": 570.7, "legendY": 12, "labelOffset": 6}},
       "strokeDash": {"datum": "5 μM BSA +190 nM C120 + 100 μM M⁺", "scale": {"range": [[1, 0]]},
                      "legend": {"title": null, "orient": "none", "legendX": 35.3, "legendY": 12.7, "labelOffset": 5, "symbolStrokeColor": "black"}}
      }
     },
     {
      "data": {"values": []},
      "mark": "rule",
      "encoding": {
       "x": {"field": "x", "type": "quantitative", "scale": {"domain": [240, 448.5], "nice": false, "zero": false},
             "axis": {"orient": "bottom", "values": [241.5, 264.5, 287.5, 310.5, 333.5, 356.5, 379.5, 402.5, 425.5], "tickSize": 6, "tickWidth": 2, "labels": false, "domain": false, "title": null}},
       "y": {"field": "y", "type": "quantitative", "scale": {"domain": [-0.043, 1.6], "nice": false, "zero": false},
             "axis": {"orient": "left", "values": [0.12, 0.36, 0.6, 0.84, 1.08, 1.32, 1.56], "tickSize": 5, "tickWidth": 2, "labels": false, "domain": false, "title": null}}
      }
     },
     {
      "data": {"values": []},
      "mark": "rule",
      "encoding": {
       "x": {"field": "x", "type": "quantitative", "scale": {"domain": [240, 448.5], "nice": false, "zero": false},
             "axis": {"orient": "top", "values": [241.5, 253, 264.5, 276, 287.5, 299, 310.5, 322, 333.5, 345, 356.5, 368, 379.5, 391, 402.5, 414, 425.5, 437], "tickSize": -5, "tickWidth": 2, "labels": false, "domain": true, "title": null}},
       "y": {"field": "y", "type": "quantitative", "scale": {"domain": [-0.043, 1.6], "nice": false, "zero": false}, "axis": null}
      }
     }
    ]
   }
  ]
 },
 {
  "width": 706,
  "height": 523,
  "data": {"name": "flu"},
  "resolve": {"axis": {"x": "independent", "y": "independent"}},
  "layer": [
   {
    "mark": {"type": "line", "strokeWidth": 3.2, "clip": true, "interpolate": "monotone"},
    "encoding": {
     "x": {"field": "x", "type": "quantitative", "scale": {"domain": [300, 550], "nice": false, "zero": false},
           "axis": {"orient": "bottom", "values": [308, 336, 364, 392, 420, 448, 476, 504, 532], "tickSize": 10, "labelPadding": 9, "title": "Dalgaboyu (nm)", "titleFontSize": 30, "titleBaseline": "alphabetic", "titleY": 76}},
     "y": {"field": "y", "type": "quantitative", "scale": {"domain": [-4.5, 400], "nice": false, "zero": false},
           "axis": {"orient": "left", "values": [0, 58, 116, 174, 232, 290, 348], "tickSize": 10, "labelPadding": 7.7, "title": "Floresans Şiddeti (Serbest birim)", "titleFontSize": 34, "titleBaseline": "alphabetic", "titleX": -93, "titleY": 252}},
     "color": {"field": "s", "type": "nominal",
               "scale": {"domain": ["No ion", "Na⁺¹", "Li⁺¹", "Ag⁺¹", "Ca⁺²", "Ba⁺²", "Cr⁺²", "Mn⁺²", "Hg⁺²", "Al⁺³", "Sn⁺⁴"],
                         "range": ["#000000", "#FF0000", "#00FF00", "#0000FF", "#00FFFF", "#FF00FF", "#FFFF00", "#808000", "#000080", "#800080", "#FF8000"]},
               "legend": {"title": null, "orient": "none", "legendX": 563.7, "legendY": 13.6, "labelOffset": 5}},
     "strokeDash": {"datum": "5 μM BSA +190 nM C120 + 100 μM M⁺", "scale": {"range": [[1, 0]]},
                    "legend": {"title": null, "orient": "none", "legendX": 26.1, "legendY": 13.3, "labelOffset": 4, "symbolStrokeColor": "black"}}
    }
   },
   {
    "data": {"values": []},
    "mark": "rule",
    "encoding": {
     "x": {"field": "x", "type": "quantitative", "scale": {"domain": [300, 550], "nice": false, "zero": false},
           "axis": {"orient": "bottom", "values": [322, 350, 378, 406, 434, 462, 490, 518, 546], "tickSize": 6, "tickWidth": 2, "labels": false, "domain": false, "title": null}},
     "y": {"field": "y", "type": "quantitative", "scale": {"domain": [-4.5, 400], "nice": false, "zero": false},
           "axis": {"orient": "left", "values": [29, 87, 145, 203, 261, 319, 377], "tickSize": 5, "tickWidth": 2, "labels": false, "domain": false, "title": null}}
    }
   },
   {
    "data": {"values": []},
    "mark": "rule",
    "encoding": {
     "x": {"field": "x", "type": "quantitative", "scale": {"domain": [300, 550], "nice": false, "zero": false},
           "axis": {"orient": "top", "values": [308, 322, 336, 350, 364, 378, 392, 406, 420, 434, 448, 462, 476, 490, 504, 518, 532, 546], "tickSize": -5, "tickWidth": 2, "labels": false, "domain": true, "title": null}},
     "y": {"field": "y", "type": "quantitative", "scale": {"domain": [-4.5, 400], "nice": false, "zero": false},
           "axis": {"orient": "right", "ticks": false, "labels": false, "domain": true, "title": null}}
    }
   }
  ]
 }
]
}
